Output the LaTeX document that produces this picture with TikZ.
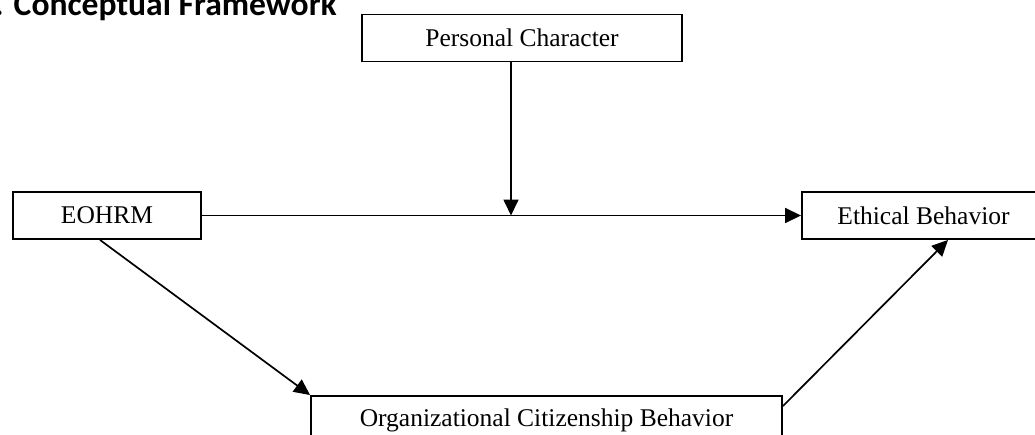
\documentclass[tikz,border=0pt]{standalone}
\usepackage{fontspec}
\setmainfont{Liberation Serif}
\newfontfamily\titlefont{Carlito}
\usetikzlibrary{arrows.meta}

\begin{document}
\begin{tikzpicture}[x=1pt, y=-1pt,
    caja/.style={draw, line width=1.9pt, minimum height=47pt, inner sep=0pt,
        font=\fontsize{25.5}{29}\selectfont},
    flecha/.style={-{Triangle[length=16pt,width=15pt]}, line width=1.7pt}]
    \useasboundingbox (0,0) rectangle (1035,434);
    \clip (0,0) rectangle (1035,434);

    % Titulo (cortado a la izquierda, como en el original)
    \node[anchor=base east, inner sep=0pt, font=\titlefont\bfseries\fontsize{33.6}{38}\selectfont]
        (titulo) at (337,15) {2. Conceptual Framework};

    % Cajas de las variables
    \node[caja, minimum width=320pt] (caracter) at (522,38) {Personal Character};
    \node[caja, minimum width=188pt] (eohrm) at (107,215.5) {EOHRM};
    \node[caja, minimum width=243pt] (etica) at (923.5,215.5) {Ethical Behavior};
    \node[caja, minimum width=471pt, minimum height=48pt] (ocb) at (546.5,420)
        {Organizational Citizenship Behavior};

    % Efecto directo
    \draw[flecha] (eohrm) -- (etica);

    % Moderador sobre la relacion directa
    \coordinate (cruce) at (511,215.5);
    \draw[flecha] (caracter.south -| cruce) -- (cruce);

    % Mediacion
    \draw[flecha] ([xshift=-7pt]eohrm.south) -- (ocb.north west);
    \draw[flecha] ([yshift=-11pt]ocb.north east) -- ([xshift=24.5pt]etica.south);
\end{tikzpicture}
\end{document}
